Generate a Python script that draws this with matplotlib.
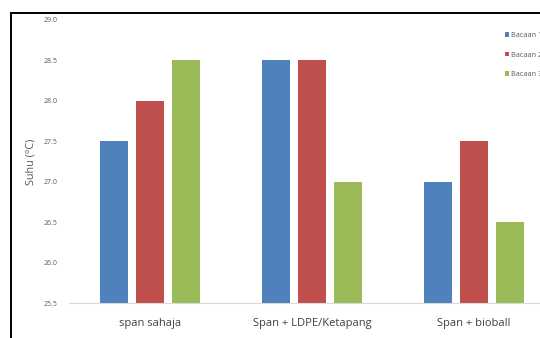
import numpy as np
import matplotlib
matplotlib.use("Agg")
import matplotlib.pyplot as plt
from matplotlib.lines import Line2D

plt.rcParams['font.family'] = ['Open Sans', 'DejaVu Sans']

# Temperature readings per treatment
categories = ["span sahaja", "Span + LDPE/Ketapang", "Span + bioball"]
bacaan_1 = [27.5, 28.5, 27.0]
bacaan_2 = [28.0, 28.5, 27.5]
bacaan_3 = [28.5, 27.0, 26.5]
series_names = ["Bacaan 1", "Bacaan 2", "Bacaan 3"]
colors = ["#4F81BD", "#C0504D", "#9BBB59"]

W, H = 540, 338
fig = plt.figure(figsize=(W / 100, H / 100), dpi=100)
fig.patch.set_facecolor("white")

# plot area runs off the right edge of the canvas
ax = fig.add_axes([69 / W, 35 / H, 486 / W, 283 / H])

x = np.arange(len(categories))
bw = 28 / 162
step = 36 / 162
for i, vals in enumerate([bacaan_1, bacaan_2, bacaan_3]):
    ax.bar(x + (i - 1) * step, vals, width=bw, color=colors[i],
           label=series_names[i])

ax.set_xlim(-0.5, 2.5)
ax.set_ylim(25.5, 29.0)
ax.set_yticks(np.arange(25.5, 29.01, 0.5))
ax.yaxis.set_major_formatter(matplotlib.ticker.FormatStrFormatter("%.1f"))
ax.set_xticks(x)
ax.set_xticklabels(categories)

ax.tick_params(axis="y", length=0, pad=8.0, labelsize=5.0, labelcolor="#595959")
ax.tick_params(axis="x", length=0, pad=11, labelsize=8.0, labelcolor="#404040")

for s in ["top", "right", "left"]:
    ax.spines[s].set_visible(False)
ax.spines["bottom"].set_color("#D9D9D9")
ax.spines["bottom"].set_linewidth(0.8)

ax.set_ylabel("Suhu (°C)", fontsize=7.8, color="#595959", labelpad=5)

leg = ax.legend(loc="upper left", bbox_to_anchor=(502 / W, 1 - 29 / H),
                bbox_transform=fig.transFigure, frameon=False,
                fontsize=5.2, handlelength=0.6, handleheight=0.6,
                handletextpad=0.3, labelspacing=1.75, borderaxespad=0)
for t in leg.get_texts():
    t.set_color("#595959")

# outer frame (left and top edges visible)
fig.add_artist(Line2D([11 / W, 11 / W], [0, 1 - 13 / H],
                      transform=fig.transFigure, color="black", lw=1.4))
fig.add_artist(Line2D([11 / W, 1.0], [1 - 13 / H, 1 - 13 / H],
                      transform=fig.transFigure, color="black", lw=1.4))

fig.savefig("out.png", dpi=100)
